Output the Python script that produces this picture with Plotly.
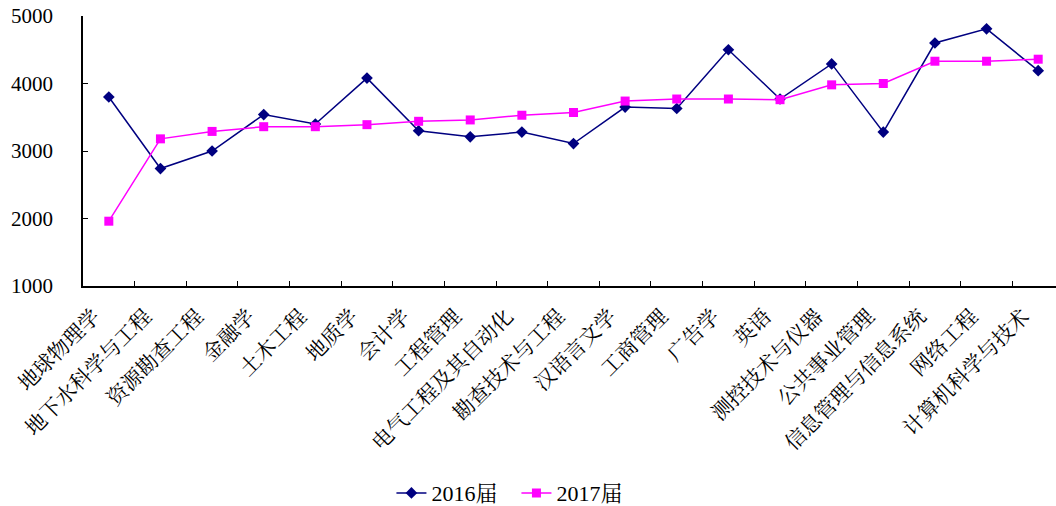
import plotly.graph_objects as go

categories = ["地球物理学", "地下水科学与工程", "资源勘查工程", "金融学", "土木工程", "地质学",
              "会计学", "工程管理", "电气工程及其自动化", "勘查技术与工程", "汉语言文学", "工商管理",
              "广告学", "英语", "测控技术与仪器", "公共事业管理", "信息管理与信息系统", "网络工程",
              "计算机科学与技术"]
values_2016 = [3800, 2740, 3000, 3540, 3400, 4080, 3300, 3210, 3280, 3110, 3650, 3630,
               4500, 3770, 4290, 3280, 4600, 4810, 4190]
values_2017 = [1960, 3180, 3290, 3360, 3360, 3390, 3440, 3460, 3530, 3570, 3740, 3770,
               3770, 3760, 3980, 4000, 4330, 4330, 4360]
y_ticks = [1000, 2000, 3000, 4000, 5000]

FONT = "Liberation Serif, Noto Serif CJK SC, Noto Sans CJK SC, serif"
FS = 21

fig = go.Figure()
fig.add_trace(go.Scatter(
    x=categories, y=values_2016, name="2016届", mode="lines+markers",
    line=dict(color="#000080", width=1.5),
    marker=dict(symbol="diamond", size=9, color="#000080"),
))
fig.add_trace(go.Scatter(
    x=categories, y=values_2017, name="2017届", mode="lines+markers",
    line=dict(color="#FF00FF", width=1.5),
    marker=dict(symbol="square", size=9, color="#FF00FF"),
))

fig.update_layout(
    width=1056, height=506,
    margin=dict(l=83, r=0, t=16, b=220, autoexpand=False),
    paper_bgcolor="white", plot_bgcolor="white",
    font=dict(family=FONT, size=FS, color="black"),
    showlegend=True,
    legend=dict(orientation="h", x=0.317, xanchor="left", y=-0.767, yanchor="middle",
                entrywidth=80, font=dict(size=22, family=FONT)),
    xaxis=dict(
        type="category", showline=True, linecolor="black", linewidth=1.5,
        ticks="inside", tickson="boundaries", ticklen=5, tickcolor="black",
        tickangle=-45, showgrid=False, zeroline=False, automargin=False,
        tickfont=dict(size=FS, family=FONT),
        ticklabelstandoff=8, ticklabelshift=-15,
        range=[-0.5, 18.345],
    ),
    yaxis=dict(
        range=[1000, 5000], tickvals=y_ticks, showline=True, linecolor="black", linewidth=1.5,
        ticks="inside", ticklen=5, tickcolor="black", showgrid=False, zeroline=False,
        automargin=False, ticklabelstandoff=24,
        tickfont=dict(size=FS, family=FONT),
    ),
)

fig.write_html("out.html", config={"displayModeBar": False},
               post_script="document.body.style.margin='0';document.body.style.overflow='hidden';")
